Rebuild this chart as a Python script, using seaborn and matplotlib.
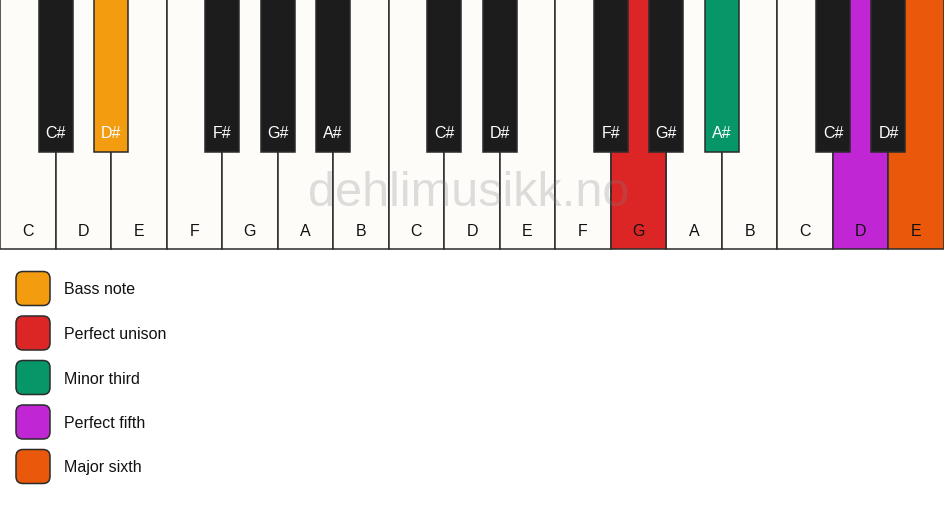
import pandas as pd
import matplotlib.pyplot as plt
import seaborn as sns
from matplotlib.patches import FancyBboxPatch

# keyboard content
white_notes = ['C', 'D', 'E', 'F', 'G', 'A', 'B', 'C', 'D', 'E', 'F', 'G', 'A', 'B', 'C', 'D', 'E']
white_roles = ['none'] * 11 + ['unison', 'none', 'none', 'none', 'fifth', 'sixth']
black_notes = ['C#', 'D#', 'F#', 'G#', 'A#', 'C#', 'D#', 'F#', 'G#', 'A#', 'C#', 'D#']
black_roles = ['none', 'bass', 'none', 'none', 'none', 'none', 'none', 'none', 'none', 'third', 'none', 'none']

legend_labels = ['Bass note', 'Perfect unison', 'Minor third', 'Perfect fifth', 'Major sixth']
legend_roles = ['bass', 'unison', 'third', 'fifth', 'sixth']

white_pal = {'none': '#fdfcf9', 'bass': '#f39c0f', 'unison': '#dc2626',
             'third': '#069668', 'fifth': '#c026d3', 'sixth': '#ea580c'}
black_pal = dict(white_pal, none='#1c1c1c')

W, H = 944, 506
KW = W / len(white_notes)
WHITE_H, BLACK_H, BLACK_W = 250, 153, 34

sns.set_theme(style='white')
plt.rcParams['font.family'] = ['Liberation Sans', 'DejaVu Sans']

white = pd.DataFrame({'note': white_notes, 'role': white_roles})
white['x'] = (white.index + 0.5) * KW
white['h'] = WHITE_H

# black keys sit on the boundary after C, D, F, G, A
after = [i + 1 for i, n in enumerate(white_notes[:-1]) if n in 'CDFGA']
black = pd.DataFrame({'note': black_notes, 'role': black_roles})
black['x'] = [i * KW for i in after]
black['h'] = BLACK_H

fig = plt.figure(figsize=(W / 100, H / 100), dpi=100)
ax = fig.add_axes([0, 0, 1, 1])

sns.barplot(data=white, x='x', y='h', hue='role', palette=white_pal, native_scale=True,
            width=1.0, saturation=1, edgecolor='#2b2b2b', linewidth=1.1, errorbar=None,
            legend=False, ax=ax, zorder=1)
sns.barplot(data=black, x='x', y='h', hue='role', palette=black_pal, native_scale=True,
            width=BLACK_W / KW, saturation=1, edgecolor='#2b2b2b', linewidth=1.1, errorbar=None,
            legend=False, ax=ax, zorder=3)

for _, r in white.iterrows():
    ax.text(r['x'], 231, r['note'], ha='center', va='center', fontsize=11.5, color='#111111', zorder=4)
for _, r in black.iterrows():
    ax.text(r['x'], 133, r['note'], ha='center', va='center', fontsize=11.5, color='white', zorder=4)

ax.text(W / 2 - 3, 193, 'dehlimusikk.no', ha='center', va='center', fontsize=35,
        color='#808080', alpha=0.25, zorder=2)

for i, (lab, role) in enumerate(zip(legend_labels, legend_roles)):
    y0 = 272.5 + i * 44.5
    ax.add_patch(FancyBboxPatch((16, y0), 34, 34, boxstyle='round,pad=0,rounding_size=7',
                                facecolor=white_pal[role], edgecolor='#2b2b2b', linewidth=1.1))
    ax.text(64, y0 + 17.5, lab, ha='left', va='center', fontsize=11.5, color='#111111')

ax.set_xlim(0, W)
ax.set_ylim(H, 0)
ax.axis('off')
plt.savefig('out.png', dpi=100)
